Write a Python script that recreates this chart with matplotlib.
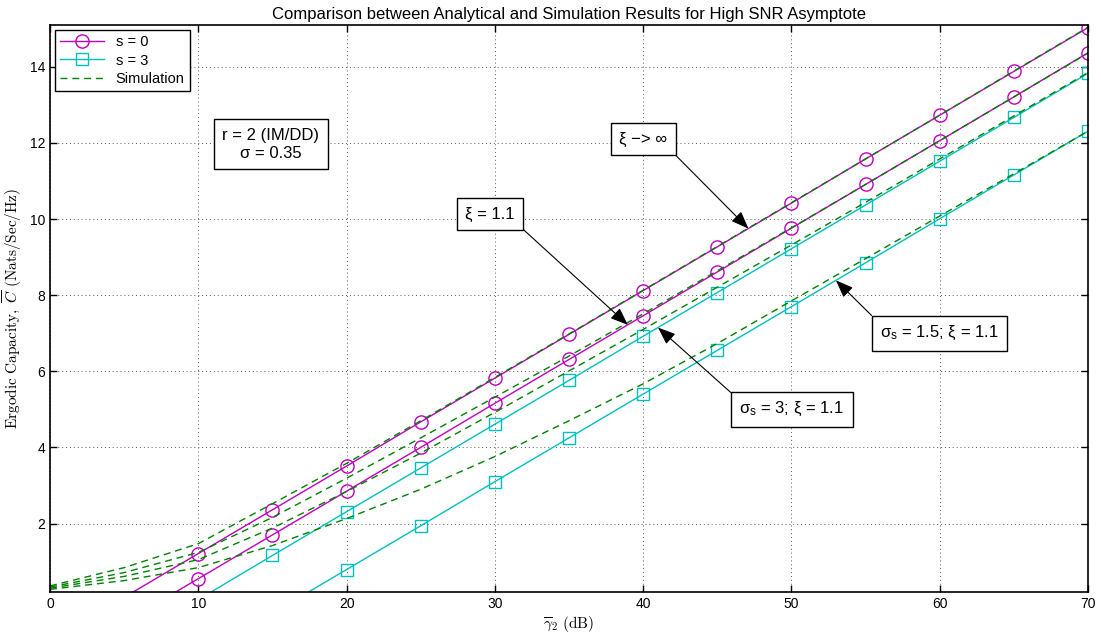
import numpy as np
import matplotlib
matplotlib.use('Agg')
import matplotlib.pyplot as plt

plt.rcParams['font.family'] = ['Liberation Sans', 'DejaVu Sans']

# SNR grid (dB)
snr = [0, 5, 10, 15, 20, 25, 30, 35, 40, 45, 50, 55, 60, 65, 70]

# high SNR asymptotes
asym_s0_inf = [-1.09, 0.06, 1.21, 2.36, 3.51, 4.67, 5.82, 6.97, 8.12, 9.27, 10.42, 11.58, 12.73, 13.88, 15.03]
asym_s0_11 = [-1.75, -0.60, 0.55, 1.70, 2.85, 4.00, 5.16, 6.31, 7.46, 8.61, 9.76, 10.91, 12.06, 13.21, 14.37]
asym_s15_11 = [-2.30, -1.15, 0.00, 1.16, 2.31, 3.46, 4.61, 5.76, 6.92, 8.07, 9.22, 10.37, 11.52, 12.67, 13.83]
asym_s3_11 = [-3.81, -2.66, -1.51, -0.36, 0.79, 1.94, 3.10, 4.25, 5.40, 6.55, 7.70, 8.85, 10.01, 11.16, 12.31]

# simulated ergodic capacity
sim_s0_inf = [0.36, 0.84, 1.47, 2.52, 3.58, 4.70, 5.84, 6.98, 8.13, 9.28, 10.43, 11.58, 12.73, 13.89, 15.04]
sim_s0_11 = [0.33, 0.71, 1.24, 2.16, 3.19, 4.25, 5.32, 6.40, 7.51, 8.64, 9.77, 10.91, 12.06, 13.21, 14.36]
sim_s15_11 = [0.30, 0.61, 1.05, 1.88, 2.84, 3.85, 4.92, 6.01, 7.10, 8.21, 9.32, 10.44, 11.58, 12.71, 13.85]
sim_s3_11 = [0.27, 0.50, 0.84, 1.42, 2.13, 2.90, 3.76, 4.70, 5.67, 6.73, 7.85, 8.96, 10.08, 11.19, 12.31]

ymin, ymax = 0.2, 15.1
mag = '#BF00BF'
cya = '#00BFBF'
grn = '#008000'

fig = plt.figure(figsize=(11.01, 6.34), dpi=100)
ax = fig.add_axes([50/1101, 42/634, 1038/1101, 567/634])

def asym(y, c, m, ms, lab):
    y = np.array(y)
    return ax.plot(snr, y, color=c, lw=1.0, marker=m, ms=ms, mfc='none', mec=c, mew=1.0,
                   markevery=list(y > ymin), label=lab)[0]

h1 = asym(asym_s0_inf, mag, 'o', 9.5, 's = 0')
asym(asym_s0_11, mag, 'o', 9.5, None)
h2 = asym(asym_s15_11, cya, 's', 8, 's = 3')
asym(asym_s3_11, cya, 's', 8, None)

hs = None
for sim in [sim_s0_inf, sim_s0_11, sim_s15_11, sim_s3_11]:
    l, = ax.plot(snr, sim, color=grn, lw=1.0, ls='--', dashes=(5, 3.5))
    if hs is None:
        hs = l

ax.set_xlim(0, 70)
ax.set_ylim(ymin, ymax)
ax.set_xticks(range(0, 71, 10))
ax.set_yticks(range(2, 15, 2))
ax.tick_params(direction='in', length=5, width=1, top=True, right=True, labelsize=10)
for s in ax.spines.values():
    s.set_linewidth(1.2)
ax.grid(True, color='0.35', ls=(0, (1, 3)), lw=0.7)

ax.set_title('Comparison between Analytical and Simulation Results for High SNR Asymptote',
             fontsize=12, pad=4)
ax.set_xlabel(r'$\overline{\gamma}_2\ \mathrm{(dB)}$', fontsize=11, math_fontfamily='cm', labelpad=2)
ax.set_ylabel(r'$\mathrm{Ergodic\ Capacity,}\ \overline{C}\ \mathrm{(Nats/Sec/Hz)}$', fontsize=11,
              math_fontfamily='cm', labelpad=4)

leg = ax.legend([h1, h2, hs], ['s = 0', 's = 3', 'Simulation'], loc='upper left', fontsize=10.5,
                fancybox=False, edgecolor='black', framealpha=1, borderaxespad=0.35,
                handlelength=3.0, labelspacing=0.3, borderpad=0.35)
leg.get_frame().set_linewidth(1.0)

box = dict(boxstyle='square,pad=0.5', fc='white', ec='black', lw=1.0)
arrow = dict(arrowstyle='-|>,head_length=0.9,head_width=0.35', color='black', lw=0.8,
             shrinkA=0, shrinkB=0, mutation_scale=12)

ax.text(14.9, 11.97, 'r = 2 (IM/DD)\nσ = 0.35', ha='center', va='center', fontsize=12,
        bbox=box, linespacing=1.25)

ax.annotate('ξ −> ∞', xy=(47.1, 9.75), xytext=(40.0, 12.1), ha='center', va='center',
            fontsize=12, bbox=box, arrowprops=dict(arrow, relpos=(1, 0)))
ax.annotate('ξ = 1.1', xy=(38.97, 7.22), xytext=(29.67, 10.13), ha='center', va='center',
            fontsize=12, bbox=box, arrowprops=dict(arrow, relpos=(1, 0)))
ax.annotate(r'$\mathregular{σ_s}$ = 3; ξ = 1.1', xy=(41.0, 7.15), xytext=(50.03, 5.0),
            ha='center', va='center', fontsize=12, bbox=box,
            arrowprops=dict(arrow, relpos=(0, 1)))
ax.annotate(r'$\mathregular{σ_s}$ = 1.5; ξ = 1.1', xy=(53.0, 8.39), xytext=(60.0, 7.0),
            ha='center', va='center', fontsize=12, bbox=box,
            arrowprops=dict(arrow, relpos=(0, 1)))

fig.savefig('out.png', dpi=100)
